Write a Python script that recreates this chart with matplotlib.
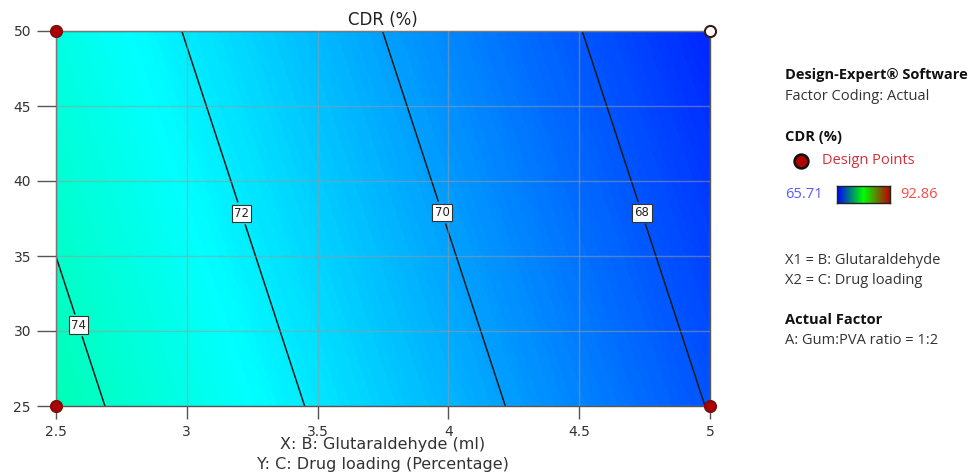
import numpy as np
import matplotlib
matplotlib.use("Agg")
import matplotlib.pyplot as plt
from matplotlib.colors import LinearSegmentedColormap

# Glutaraldehyde (ml) and drug loading (%) grid
glutaraldehyde = [2.5, 3.0, 3.5, 4.0, 4.5, 5.0]
drug_loading = [25, 50]
# CDR (%) on the grid: one row per drug loading level
cdr_low_loading = [74.49, 73.18, 71.87, 70.57, 69.26, 67.95]
cdr_high_loading = [73.26, 71.95, 70.65, 69.34, 68.03, 66.72]

contour_levels = [68, 70, 72, 74]
label_positions = [(2.59, 30.4), (3.22, 37.9), (3.976, 37.9), (4.744, 37.9)]

# design points: (x, y, filled)
design_x = [2.5, 2.5, 5.0, 5.0]
design_y = [50, 25, 25, 50]
design_filled = [True, True, True, False]

cdr_min, cdr_max = 65.71, 92.86

surface_cmap = LinearSegmentedColormap.from_list(
    "de_surface", [(0.0, "#0000ff"), (0.25, "#00ffff"), (0.5, "#00ff00"),
                   (0.75, "#ffff00"), (1.0, "#ff0000")])
legend_cmap = LinearSegmentedColormap.from_list(
    "de_legend", ["#0000ff", "#00ff00", "#c00000"])

fig = plt.figure(figsize=(9.73, 4.76), dpi=100)
ax = fig.add_axes([56 / 973, 1 - 406 / 476, 654 / 973, 375 / 476])

X, Y = np.meshgrid(glutaraldehyde, drug_loading)
Z = np.array([cdr_low_loading, cdr_high_loading])

# smooth shaded response surface
fill = ax.contourf(X, Y, Z, levels=np.linspace(cdr_min, cdr_max, 600),
                   cmap=surface_cmap, vmin=cdr_min, vmax=cdr_max, zorder=0)
fill.set_edgecolor("face")
fill.set_linewidth(0.4)

cs = ax.contour(X, Y, Z, levels=contour_levels, colors="#1a1a1a",
                linewidths=1.1, zorder=2)
labels = ax.clabel(cs, fmt="%d", manual=label_positions, inline=True,
                   inline_spacing=4, fontsize=8.5)
for t in labels:
    t.set_bbox(dict(boxstyle="square,pad=0.2", fc="white", ec="#333333", lw=0.8))
    t.set_rotation(0)
    t.set_color("#222222")

ax.set_xlim(2.5, 5)
ax.set_ylim(25, 50)
ax.set_xticks([2.5, 3, 3.5, 4, 4.5, 5])
ax.set_xticklabels(["2.5", "3", "3.5", "4", "4.5", "5"])
ax.set_yticks([25, 30, 35, 40, 45, 50])
ax.grid(True, color="#9a9a9a", alpha=0.55, lw=1.0, zorder=1)
ax.set_axisbelow(False)
for s in ax.spines.values():
    s.set_color("#555555")
    s.set_linewidth(1.0)
ax.tick_params(axis="both", colors="#555555", labelcolor="#333333",
               labelsize=10, length=14, width=1.0)
ax.tick_params(axis="x", length=9, pad=5)
ax.tick_params(axis="y", pad=4)

for x, y, filled in zip(design_x, design_y, design_filled):
    ax.plot(x, y, marker="o", markersize=8,
            mfc="#b00000" if filled else "white",
            mec="#7a1010" if filled else "#3a1a10", mew=1.5,
            clip_on=False, zorder=5)

ax.set_title("CDR (%)", fontsize=12, color="#222222", pad=4)
fig.text(383 / 973, 1 - 445 / 476, "X: B: Glutaraldehyde (ml)", ha="center",
         va="center", fontsize=11.5, color="#333333")
fig.text(383 / 973, 1 - 465 / 476, "Y: C: Drug loading (Percentage)", ha="center",
         va="center", fontsize=11.5, color="#333333")

# side panel
px = 785 / 973
def side(y, s, **kw):
    kw.setdefault("color", "#333333")
    kw.setdefault("fontsize", 10.5)
    fig.text(px, 1 - y / 476, s, va="center", ha="left", family="Open Sans", **kw)

side(75, "Design-Expert® Software", fontweight="bold", color="#111111")
side(96, "Factor Coding: Actual")
side(137, "CDR (%)", fontweight="bold", color="#111111")
fig.text(822 / 973, 1 - 161 / 476, "Design Points", va="center", ha="left",
         family="Open Sans", fontsize=10.5, color="#d0303a")
fig.add_artist(plt.Line2D([801 / 973], [1 - 161 / 476], marker="o", markersize=10,
                          mfc="#b00000", mec="#111111", mew=1.8,
                          transform=fig.transFigure))
fig.text(785 / 973, 1 - 194 / 476, f"{cdr_min:.2f}", va="center", ha="left",
         family="Open Sans", fontsize=10.5, color="#5a5aff")
fig.text(900 / 973, 1 - 194 / 476, f"{cdr_max:.2f}", va="center", ha="left",
         family="Open Sans", fontsize=10.5, color="#ff4a4a")
cax = fig.add_axes([837 / 973, 1 - 203 / 476, 53 / 973, 17 / 476])
cax.imshow(np.linspace(0, 1, 256)[None, :], cmap=legend_cmap, aspect="auto")
cax.set_xticks([])
cax.set_yticks([])
for s in cax.spines.values():
    s.set_color("#222222")
    s.set_linewidth(1.0)

side(260, "X1 = B: Glutaraldehyde")
side(280, "X2 = C: Drug loading")
side(320, "Actual Factor", fontweight="bold", color="#111111")
side(340, "A: Gum:PVA ratio = 1:2")

fig.savefig("out.png", dpi=100)
